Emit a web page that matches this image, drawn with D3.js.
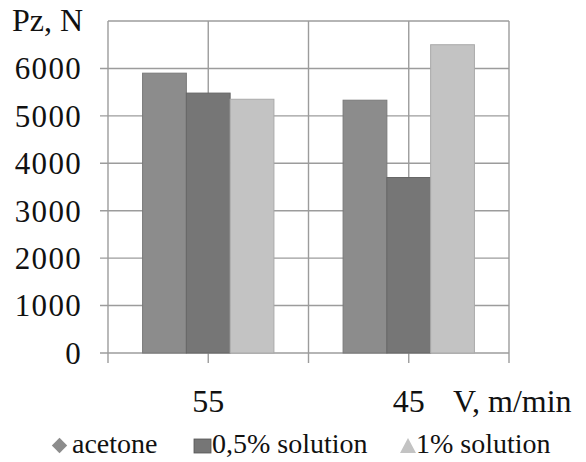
<!DOCTYPE html>
<html><head><meta charset="utf-8">
<script src="https://cdn.jsdelivr.net/npm/d3@7"></script>
<style>body{margin:0;background:#fff}svg{display:block}</style>
</head><body><svg id="c" width="586" height="462"></svg>
<script>
const categories = ["55", "45"];
const seriesNames = ["acetone", "0,5% solution", "1% solution"];
const acetone = [5900, 5330];
const solution05 = [5480, 3700];
const solution1 = [5350, 6500];
const yTicks = [0, 1000, 2000, 3000, 4000, 5000, 6000];
const colors = ["#8c8c8c", "#767676", "#c3c3c3"];
const series = [acetone, solution05, solution1];
const FONT = "Liberation Serif";

const svg = d3.select("#c");
const pLeft = 108, pRight = 509, pTop = 21, pBottom = 353;
const x = d3.scaleBand().domain(categories).range([pLeft, pRight]).padding(0);
const xi = d3.scaleBand().domain(seriesNames).range([0, x.bandwidth()]).paddingInner(0).paddingOuter(0.79);
const y = d3.scaleLinear().domain([0, 7000]).range([pBottom, pTop]);

const grid = svg.append("g").attr("stroke", "#9c9c9c").attr("stroke-width", 1.4);
[...yTicks, 7000].forEach(t => {
  grid.append("line").attr("x1", t === 7000 ? pLeft : pLeft - 8).attr("x2", pRight)
    .attr("y1", y(t)).attr("y2", y(t));
});
const vx = [];
categories.forEach(c => { vx.push(x(c)); vx.push(x(c) + x.bandwidth() / 2); });
vx.push(pRight);
vx.forEach(v => {
  grid.append("line").attr("x1", v).attr("x2", v).attr("y1", pTop).attr("y2", pBottom + 10);
});

series.forEach((vals, si) => {
  svg.append("g").selectAll("rect").data(vals).join("rect")
    .attr("x", (d, i) => x(categories[i]) + xi(seriesNames[si]))
    .attr("width", xi.bandwidth())
    .attr("y", d => y(d))
    .attr("height", d => y(0) - y(d))
    .attr("fill", colors[si])
    .attr("stroke", d3.color(colors[si]).darker(0.4))
    .attr("stroke-width", 1);
});

const tc = "#111";
svg.append("g").selectAll("text").data(yTicks).join("text")
  .attr("font-family", FONT)
  .attr("x", 82).attr("y", d => y(d)).attr("dy", "0.35em").attr("fill", tc)
  .attr("text-anchor", "end").attr("font-size", 31).attr("letter-spacing", 1.3)
  .text(d => d);
svg.append("text").attr("font-family", FONT).attr("x", 12).attr("y", 31).attr("font-size", 32).attr("fill", tc).text("Pz, N");

svg.append("g").selectAll("text").data(categories).join("text")
  .attr("font-family", FONT)
  .attr("x", d => x(d) + x.bandwidth() / 2).attr("y", 412).attr("fill", tc)
  .attr("text-anchor", "middle").attr("font-size", 32).text(d => d);
svg.append("text").attr("font-family", FONT).attr("x", 453).attr("y", 412).attr("font-size", 32).attr("fill", tc).text("V, m/min");

const lg = svg.append("g");
lg.append("path").attr("d", d3.symbol(d3.symbolDiamond2, 150)())
  .attr("transform", "translate(59.5,445.5)").attr("fill", colors[0]);
lg.append("text").attr("font-family", FONT).attr("x", 72).attr("y", 453).attr("font-size", 28).attr("fill", tc).text(seriesNames[0]);
lg.append("rect").attr("x", 194).attr("y", 439).attr("width", 17).attr("height", 14)
  .attr("fill", colors[1]).attr("stroke", "#555").attr("stroke-width", 0.8);
lg.append("text").attr("font-family", FONT).attr("x", 212).attr("y", 453).attr("font-size", 28).attr("fill", tc).text(seriesNames[1]);
lg.append("path").attr("d", "M400,453 L408,438 L416,453 Z").attr("fill", colors[2]);
lg.append("text").attr("font-family", FONT).attr("x", 416).attr("y", 453).attr("font-size", 28).attr("fill", tc).text(seriesNames[2]);
</script></body></html>
